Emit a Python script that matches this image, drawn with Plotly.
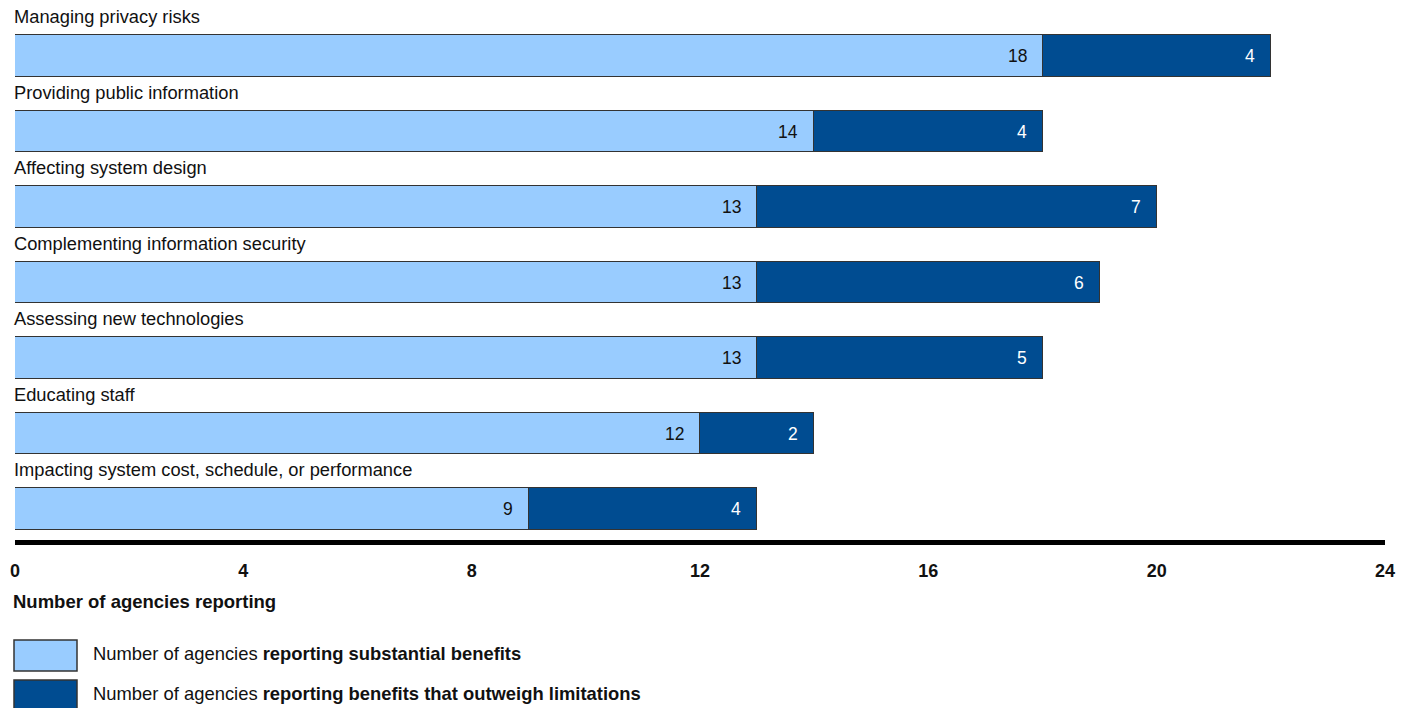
import plotly.graph_objects as go

categories = [
    "Managing privacy risks",
    "Providing public information",
    "Affecting system design",
    "Complementing information security",
    "Assessing new technologies",
    "Educating staff",
    "Impacting system cost, schedule, or performance",
]
substantial = [18, 14, 13, 13, 13, 12, 9]
outweigh = [4, 4, 7, 6, 5, 2, 4]
x_ticks = [0, 4, 8, 12, 16, 20, 24]

LIGHT = "#99CCFF"
DARK = "#004C91"
FONT = "Liberation Sans, Arial, sans-serif"

W, H = 1412, 708
PL, PR = 15, 1385
PT, PB = 0, 540
pos = list(range(len(categories)))

fig = go.Figure()
fig.add_trace(go.Bar(
    y=pos, x=substantial, orientation="h", name="substantial",
    marker=dict(color=LIGHT, line=dict(color="#333333", width=1.5)),
    width=0.556, hoverinfo="skip",
))
fig.add_trace(go.Bar(
    y=pos, x=outweigh, orientation="h", name="outweigh",
    marker=dict(color=DARK, line=dict(color="#333333", width=1.5)),
    width=0.556, hoverinfo="skip",
))

# value labels at inside end of each segment
for i in pos:
    s, o = substantial[i], outweigh[i]
    fig.add_annotation(x=s, y=i, xref="x", yref="y", text=str(s), showarrow=False,
                       xanchor="right", yanchor="middle", xshift=-14,
                       font=dict(family=FONT, size=17.5, color="#111111"))
    fig.add_annotation(x=s + o, y=i, xref="x", yref="y", text=str(o), showarrow=False,
                       xanchor="right", yanchor="middle", xshift=-14,
                       font=dict(family=FONT, size=17.5, color="white"))

for i, c in enumerate(categories):
    fig.add_annotation(x=0, y=i - 0.52, xref="x", yref="y", text=c,
                       showarrow=False, xanchor="left", yanchor="middle", xshift=-3,
                       font=dict(family=FONT, size=18.3, color="#111111"))

def py(p):
    return (PB - p) / (PB - PT)

def px(p):
    return (p - PL) / (PR - PL)

fig.add_annotation(x=px(11), y=py(601), xref="paper", yref="paper",
                   text="<b>Number of agencies reporting</b>", showarrow=False,
                   xanchor="left", yanchor="middle",
                   font=dict(family=FONT, size=18.5, color="#111111"))

legend_items = [
    (LIGHT, "Number of agencies <b>reporting substantial benefits</b>", 640, 671),
    (DARK, "Number of agencies <b>reporting benefits that outweigh limitations</b>", 680, 711),
]
for color, text, y0, y1 in legend_items:
    fig.add_shape(type="rect", xref="paper", yref="paper",
                  x0=px(14), x1=px(77), y0=py(y1), y1=py(y0),
                  fillcolor=color, line=dict(color="#333333", width=1.5))
    fig.add_annotation(x=px(91), y=py((y0 + y1) / 2 - 2), xref="paper", yref="paper",
                       text=text, showarrow=False, xanchor="left", yanchor="middle",
                       font=dict(family=FONT, size=18.4, color="#111111"))

y0_val = (PT - 56) / 75.5
y1_val = (PB - 56) / 75.5
fig.update_layout(
    width=W, height=H, barmode="stack", showlegend=False,
    plot_bgcolor="white", paper_bgcolor="white",
    margin=dict(l=PL, r=W - PR, t=PT, b=H - PB, pad=0),
    bargap=0,
    xaxis=dict(range=[0, 24], tickvals=x_ticks, ticktext=[f"<b>{v}</b>" for v in x_ticks],
               showgrid=False, zeroline=False, showline=True, linecolor="black",
               linewidth=5, ticks="", ticklabelstandoff=10,
               tickfont=dict(family=FONT, size=18, color="#111111")),
    yaxis=dict(range=[y1_val, y0_val], showticklabels=False, showgrid=False,
               zeroline=False, showline=False),
)

fig.write_html("out.html", config={"displayModeBar": False},
               post_script="document.body.style.margin='0';document.body.style.overflow='hidden';")
